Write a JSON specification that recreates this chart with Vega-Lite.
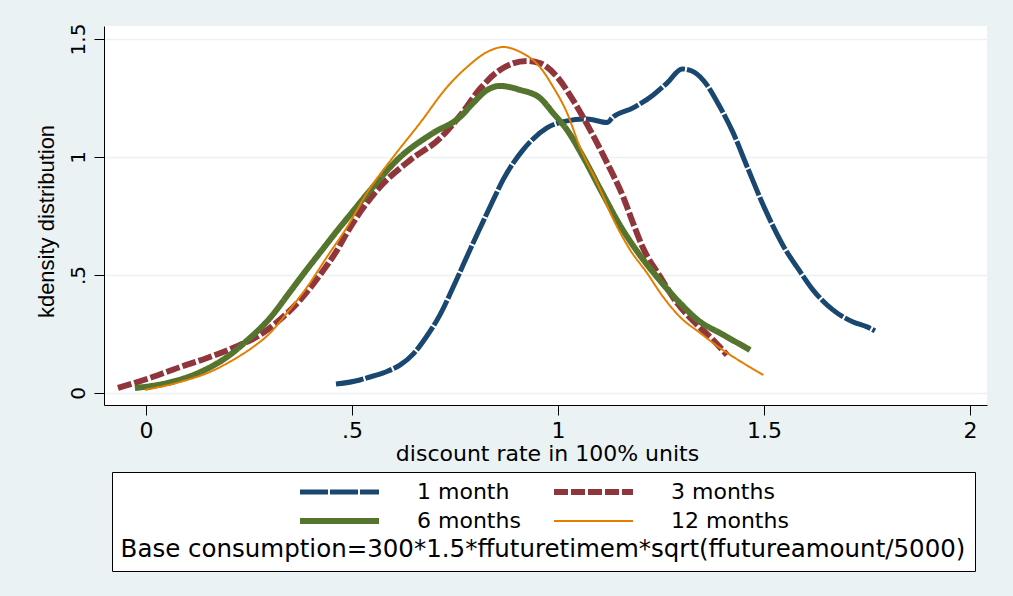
{
  "$schema": "https://vega.github.io/schema/vega-lite/v6.json",
  "width": 883,
  "height": 379,
  "autosize": {"type": "none"},
  "padding": {"left": 104, "top": 26, "right": 26, "bottom": 191},
  "background": "#EAF2F3",
  "config": {
    "view": {"fill": "white", "stroke": null},
    "axis": {
      "domainColor": "black",
      "domainWidth": 1,
      "tickColor": "black",
      "tickWidth": 1,
      "tickSize": 10,
      "labelColor": "black",
      "titleColor": "black",
      "titleFontWeight": "normal",
      "gridColor": "#EAF2F3",
      "gridWidth": 1.5
    }
  },
  "data": {
    "values": [
      {"series": "1 month", "rate": 0.461, "density": 0.038},
      {"series": "1 month", "rate": 0.519, "density": 0.055},
      {"series": "1 month", "rate": 0.536, "density": 0.064},
      {"series": "1 month", "rate": 0.580, "density": 0.088},
      {"series": "1 month", "rate": 0.617, "density": 0.119},
      {"series": "1 month", "rate": 0.650, "density": 0.168},
      {"series": "1 month", "rate": 0.680, "density": 0.237},
      {"series": "1 month", "rate": 0.714, "density": 0.333},
      {"series": "1 month", "rate": 0.750, "density": 0.466},
      {"series": "1 month", "rate": 0.786, "density": 0.606},
      {"series": "1 month", "rate": 0.811, "density": 0.700},
      {"series": "1 month", "rate": 0.840, "density": 0.808},
      {"series": "1 month", "rate": 0.867, "density": 0.905},
      {"series": "1 month", "rate": 0.915, "density": 1.030},
      {"series": "1 month", "rate": 0.973, "density": 1.123},
      {"series": "1 month", "rate": 1.022, "density": 1.153},
      {"series": "1 month", "rate": 1.070, "density": 1.161},
      {"series": "1 month", "rate": 1.119, "density": 1.146},
      {"series": "1 month", "rate": 1.133, "density": 1.169},
      {"series": "1 month", "rate": 1.182, "density": 1.208},
      {"series": "1 month", "rate": 1.231, "density": 1.263},
      {"series": "1 month", "rate": 1.265, "density": 1.314},
      {"series": "1 month", "rate": 1.301, "density": 1.373},
      {"series": "1 month", "rate": 1.325, "density": 1.364},
      {"series": "1 month", "rate": 1.352, "density": 1.326},
      {"series": "1 month", "rate": 1.393, "density": 1.212},
      {"series": "1 month", "rate": 1.425, "density": 1.102},
      {"series": "1 month", "rate": 1.459, "density": 0.958},
      {"series": "1 month", "rate": 1.502, "density": 0.780},
      {"series": "1 month", "rate": 1.546, "density": 0.625},
      {"series": "1 month", "rate": 1.587, "density": 0.515},
      {"series": "1 month", "rate": 1.619, "density": 0.436},
      {"series": "1 month", "rate": 1.667, "density": 0.352},
      {"series": "1 month", "rate": 1.716, "density": 0.301},
      {"series": "1 month", "rate": 1.750, "density": 0.280},
      {"series": "1 month", "rate": 1.769, "density": 0.263},

      {"series": "3 months", "rate": -0.068, "density": 0.021},
      {"series": "3 months", "rate": 0.010, "density": 0.064},
      {"series": "3 months", "rate": 0.083, "density": 0.110},
      {"series": "3 months", "rate": 0.148, "density": 0.148},
      {"series": "3 months", "rate": 0.211, "density": 0.191},
      {"series": "3 months", "rate": 0.269, "density": 0.238},
      {"series": "3 months", "rate": 0.318, "density": 0.300},
      {"series": "3 months", "rate": 0.374, "density": 0.394},
      {"series": "3 months", "rate": 0.422, "density": 0.500},
      {"series": "3 months", "rate": 0.464, "density": 0.606},
      {"series": "3 months", "rate": 0.488, "density": 0.680},
      {"series": "3 months", "rate": 0.561, "density": 0.860},
      {"series": "3 months", "rate": 0.641, "density": 0.987},
      {"series": "3 months", "rate": 0.714, "density": 1.080},
      {"series": "3 months", "rate": 0.762, "density": 1.175},
      {"series": "3 months", "rate": 0.811, "density": 1.290},
      {"series": "3 months", "rate": 0.859, "density": 1.369},
      {"series": "3 months", "rate": 0.925, "density": 1.407},
      {"series": "3 months", "rate": 0.956, "density": 1.398},
      {"series": "3 months", "rate": 0.998, "density": 1.339},
      {"series": "3 months", "rate": 1.036, "density": 1.242},
      {"series": "3 months", "rate": 1.078, "density": 1.114},
      {"series": "3 months", "rate": 1.119, "density": 0.975},
      {"series": "3 months", "rate": 1.158, "density": 0.831},
      {"series": "3 months", "rate": 1.182, "density": 0.720},
      {"series": "3 months", "rate": 1.206, "density": 0.615},
      {"series": "3 months", "rate": 1.248, "density": 0.492},
      {"series": "3 months", "rate": 1.289, "density": 0.381},
      {"series": "3 months", "rate": 1.337, "density": 0.290},
      {"series": "3 months", "rate": 1.376, "density": 0.225},
      {"series": "3 months", "rate": 1.410, "density": 0.161},

      {"series": "6 months", "rate": -0.027, "density": 0.021},
      {"series": "6 months", "rate": 0.051, "density": 0.042},
      {"series": "6 months", "rate": 0.131, "density": 0.088},
      {"series": "6 months", "rate": 0.197, "density": 0.153},
      {"series": "6 months", "rate": 0.245, "density": 0.222},
      {"series": "6 months", "rate": 0.301, "density": 0.318},
      {"series": "6 months", "rate": 0.350, "density": 0.430},
      {"series": "6 months", "rate": 0.391, "density": 0.525},
      {"series": "6 months", "rate": 0.430, "density": 0.612},
      {"series": "6 months", "rate": 0.459, "density": 0.677},
      {"series": "6 months", "rate": 0.500, "density": 0.765},
      {"series": "6 months", "rate": 0.536, "density": 0.842},
      {"series": "6 months", "rate": 0.617, "density": 1.000},
      {"series": "6 months", "rate": 0.697, "density": 1.102},
      {"series": "6 months", "rate": 0.762, "density": 1.169},
      {"series": "6 months", "rate": 0.794, "density": 1.229},
      {"series": "6 months", "rate": 0.828, "density": 1.284},
      {"series": "6 months", "rate": 0.859, "density": 1.301},
      {"series": "6 months", "rate": 0.908, "density": 1.284},
      {"series": "6 months", "rate": 0.956, "density": 1.250},
      {"series": "6 months", "rate": 0.988, "density": 1.186},
      {"series": "6 months", "rate": 1.022, "density": 1.114},
      {"series": "6 months", "rate": 1.061, "density": 1.000},
      {"series": "6 months", "rate": 1.102, "density": 0.865},
      {"series": "6 months", "rate": 1.154, "density": 0.700},
      {"series": "6 months", "rate": 1.192, "density": 0.600},
      {"series": "6 months", "rate": 1.240, "density": 0.492},
      {"series": "6 months", "rate": 1.296, "density": 0.381},
      {"series": "6 months", "rate": 1.345, "density": 0.301},
      {"series": "6 months", "rate": 1.393, "density": 0.254},
      {"series": "6 months", "rate": 1.466, "density": 0.182},

      {"series": "12 months", "rate": -0.002, "density": 0.013},
      {"series": "12 months", "rate": 0.083, "density": 0.047},
      {"series": "12 months", "rate": 0.155, "density": 0.089},
      {"series": "12 months", "rate": 0.211, "density": 0.140},
      {"series": "12 months", "rate": 0.260, "density": 0.195},
      {"series": "12 months", "rate": 0.301, "density": 0.254},
      {"series": "12 months", "rate": 0.342, "density": 0.339},
      {"series": "12 months", "rate": 0.391, "density": 0.449},
      {"series": "12 months", "rate": 0.439, "density": 0.576},
      {"series": "12 months", "rate": 0.488, "density": 0.703},
      {"series": "12 months", "rate": 0.536, "density": 0.847},
      {"series": "12 months", "rate": 0.600, "density": 1.000},
      {"series": "12 months", "rate": 0.665, "density": 1.144},
      {"series": "12 months", "rate": 0.731, "density": 1.297},
      {"series": "12 months", "rate": 0.779, "density": 1.381},
      {"series": "12 months", "rate": 0.828, "density": 1.445},
      {"series": "12 months", "rate": 0.867, "density": 1.466},
      {"series": "12 months", "rate": 0.908, "density": 1.445},
      {"series": "12 months", "rate": 0.956, "density": 1.381},
      {"series": "12 months", "rate": 0.988, "density": 1.297},
      {"series": "12 months", "rate": 1.022, "density": 1.186},
      {"series": "12 months", "rate": 1.053, "density": 1.042},
      {"series": "12 months", "rate": 1.095, "density": 0.890},
      {"series": "12 months", "rate": 1.133, "density": 0.740},
      {"series": "12 months", "rate": 1.175, "density": 0.606},
      {"series": "12 months", "rate": 1.216, "density": 0.508},
      {"series": "12 months", "rate": 1.255, "density": 0.407},
      {"series": "12 months", "rate": 1.296, "density": 0.322},
      {"series": "12 months", "rate": 1.345, "density": 0.254},
      {"series": "12 months", "rate": 1.400, "density": 0.182},
      {"series": "12 months", "rate": 1.449, "density": 0.127},
      {"series": "12 months", "rate": 1.498, "density": 0.076}
    ]
  },
  "mark": {"type": "line", "interpolate": "monotone"},
  "encoding": {
    "x": {
      "field": "rate",
      "type": "quantitative",
      "scale": {"domain": [-0.102, 2.041], "nice": false, "zero": false},
      "axis": {
        "values": [0, 0.5, 1, 1.5, 2],
        "grid": false,
        "labelExpr": "datum.value == 0.5 ? '.5' : toString(datum.value)",
        "labelFont": "DejaVu Sans",
        "labelFontSize": 22,
        "labelBaseline": "alphabetic",
        "labelPadding": 22,
        "labelFlush": false,
        "labelOverlap": false,
        "title": "discount rate in 100% units",
        "titleFont": "DejaVu Sans",
        "titleFontSize": 22,
        "titleBaseline": "alphabetic",
        "titleAlign": "center",
        "titleX": 443,
        "titleY": 55
      }
    },
    "y": {
      "field": "density",
      "type": "quantitative",
      "scale": {"domain": [-0.051, 1.555], "nice": false, "zero": false},
      "axis": {
        "values": [0, 0.5, 1, 1.5],
        "grid": true,
        "labelExpr": "datum.value == 0.5 ? '.5' : toString(datum.value)",
        "labelFont": "DejaVu Sans",
        "labelFontSize": 20,
        "labelAngle": 270,
        "labelAlign": "center",
        "labelBaseline": "alphabetic",
        "labelPadding": 10,
        "labelFlush": false,
        "labelOverlap": false,
        "title": "kdensity distribution",
        "titleFont": "Liberation Sans",
        "titleFontSize": 22,
        "titleAngle": 270,
        "titleAlign": "center",
        "titleBaseline": "alphabetic",
        "titleX": -51,
        "titleY": 195
      }
    },
    "color": {
      "field": "series",
      "type": "nominal",
      "scale": {
        "domain": ["1 month", "3 months", "6 months", "12 months"],
        "range": ["#1A476F", "#90353B", "#55752F", "#E37E00"]
      },
      "legend": {
        "title": "Base consumption=300*1.5*ffuturetimem*sqrt(ffutureamount/5000)",
        "orient": "none",
        "legendX": 8,
        "legendY": 446,
        "direction": "horizontal",
        "columns": 2,
        "columnPadding": 30,
        "rowPadding": 7,
        "clipHeight": 22,
        "padding": 9,
        "strokeColor": "black",
        "fillColor": "white",
        "symbolType": "stroke",
        "symbolSize": 6241,
        "labelFont": "DejaVu Sans",
        "labelFontSize": 22,
        "labelColor": "black",
        "labelOffset": 35,
        "labelLimit": 400,
        "titleOrient": "bottom",
        "titleAnchor": "middle",
        "titleFont": "DejaVu Sans",
        "titleFontSize": 24.5,
        "titleFontWeight": "normal",
        "titleColor": "black",
        "titlePadding": 6,
        "titleLimit": 2000
      }
    },
    "strokeDash": {
      "field": "series",
      "type": "nominal",
      "scale": {
        "domain": ["1 month", "3 months", "6 months", "12 months"],
        "range": [[28, 2], [14, 3], [1, 0], [1, 0]]
      }
    },
    "strokeWidth": {
      "field": "series",
      "type": "nominal",
      "scale": {
        "type": "ordinal",
        "domain": ["1 month", "3 months", "6 months", "12 months"],
        "range": [5, 6, 6, 2]
      }
    }
  }
}
